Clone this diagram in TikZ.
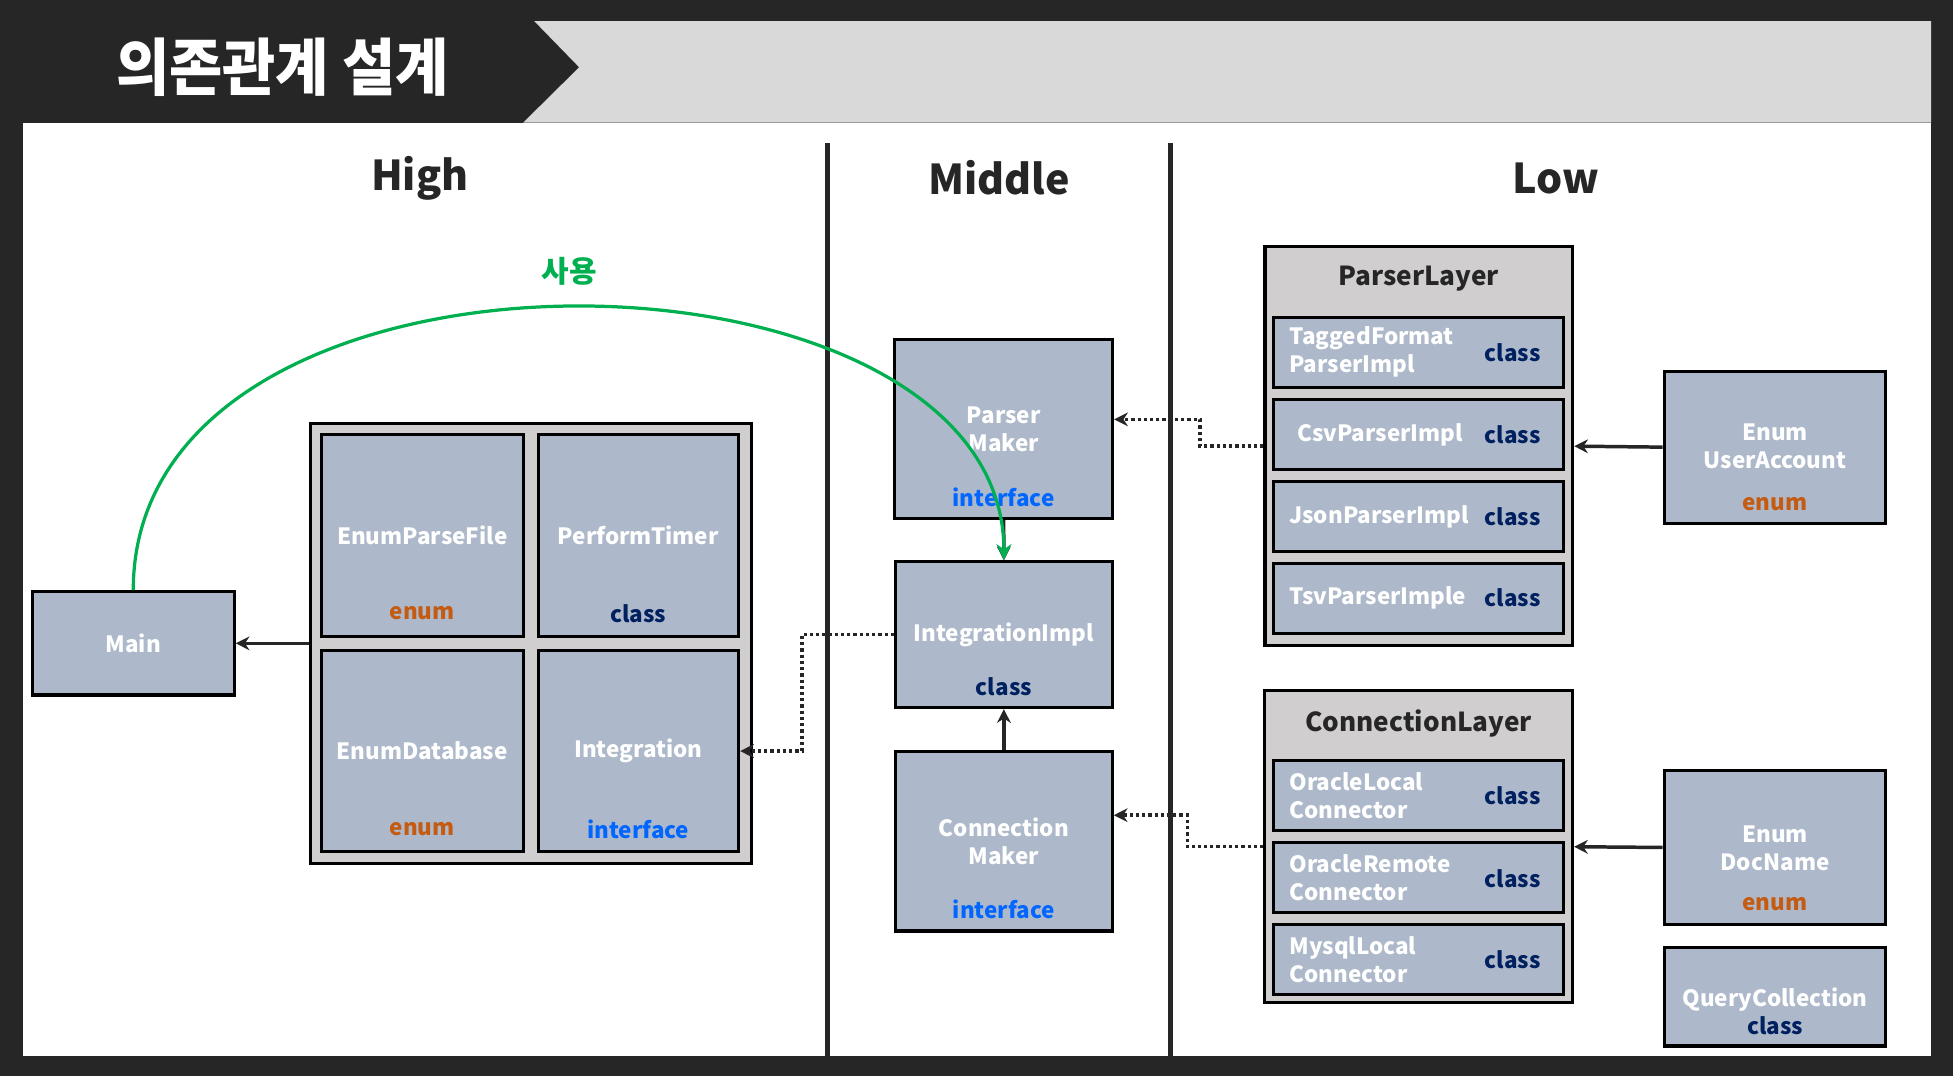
\documentclass[tikz,border=0pt]{standalone}
\usepackage{fontspec}
\usepackage{graphicx}
\setmainfont{Noto Sans CJK KR}
\usetikzlibrary{arrows.meta,calc}
\definecolor{darkbg}{HTML}{262626}
\definecolor{bandgray}{HTML}{D9D9D9}
\definecolor{boxblue}{HTML}{ADB9CA}
\definecolor{contgray}{HTML}{D0CECE}
\definecolor{enumorange}{HTML}{C55A11}
\definecolor{classnavy}{HTML}{002060}
\definecolor{ifaceblue}{HTML}{0066FF}
\definecolor{usegreen}{HTML}{00B050}
\tikzset{
  box/.style={draw=black, line width=2.5pt, fill=boxblue, inner sep=0pt},
  cont/.style={draw=black, line width=2.5pt, fill=contgray, inner sep=0pt},
  txtbase/.style={inner sep=0pt, font=\bfseries\fontsize{18}{22.5}\selectfont},
  nm/.style={txtbase, text=white, align=center},
  nml/.style={txtbase, text=white, align=left, anchor=west},
  tenum/.style={txtbase, text=enumorange},
  tclass/.style={txtbase, text=classnavy},
  tiface/.style={txtbase, text=ifaceblue},
  hdr/.style={inner sep=0pt, text=darkbg, font=\bfseries\fontsize{33}{40}\selectfont},
  ttl/.style={inner sep=0pt, text=darkbg, font=\bfseries\fontsize{21}{25}\selectfont},
  con/.style={draw=darkbg, line width=2.8pt, -{Stealth[length=11pt,width=11pt]}},
  dcon/.style={draw=darkbg, line width=2.8pt, dash pattern=on 2.6pt off 2.4pt, -{Stealth[length=11pt,width=11pt]}},
  usecon/.style={draw=usegreen, line width=2.6pt, -{Stealth[length=13pt,width=12pt]}},
  divider/.style={draw=darkbg, line width=4pt},
}
\begin{document}
\begin{tikzpicture}[x=1pt,y=-1pt]
\useasboundingbox (0,0) rectangle (1568,864);
% background and banner
\fill[darkbg] (0,0) rectangle (1568,864);
\fill[white] (18.4,98.5) rectangle (1550.5,847.5);
\fill[bandgray] (429,17) -- (1550.5,17) -- (1550.5,98.5) -- (420,98.5) -- (465,54) -- cycle;
\node[text=white, inner sep=0pt, anchor=west, font=\bfseries\fontsize{50}{56}\selectfont] (title) at (93,54) {\scalebox{0.93}[1]{의존관계 설계}};
% dividers
\draw[divider] (664,115) -- (664,848);
\draw[divider] (940,115) -- (940,848);
% headers
\node[hdr] (hHigh) at (337,143) {High};
\node[hdr] (hMid) at (802,143) {Middle};
\node[hdr] (hLow) at (1249,143) {Low};

% High
\node[box, minimum width=162pt, minimum height=83pt] (main) at (107,516.5) {};
\node[nm] (tmain) at (107,516.5) {Main};
\node[cont, minimum width=354pt, minimum height=353pt] (highc) at (426,516.5) {};
\node[box, minimum width=162pt, minimum height=162pt] (epf) at (339,430) {};
\node[box, minimum width=161pt, minimum height=162pt] (pt) at (512.5,430) {};
\node[box, minimum width=162pt, minimum height=161pt] (ed) at (339,603) {};
\node[box, minimum width=161pt, minimum height=161pt] (integ) at (512.5,603) {};
\node[nm] (tepf) at (339,430) {EnumParseFile};
\node[tenum] (kepf) at (339,492.5) {enum};
\node[nm] (tpt) at (512.5,430) {PerformTimer};
\node[tclass] (kpt) at (512.5,492.8) {class};
\node[nm] (ted) at (339,603) {EnumDatabase};
\node[tenum] (ked) at (339,666) {enum};
\node[nm] (tinteg) at (512.5,602.5) {Integration};
\node[tiface] (kinteg) at (512.5,666) {interface};

% Middle
\node[box, minimum width=175pt, minimum height=144pt] (pmaker) at (805.8,344.3) {};
\node[nm] (tpmaker) at (805.8,345) {Parser\\Maker};
\node[tiface] (kpmaker) at (805.8,399.3) {interface};
\node[box, minimum width=174pt, minimum height=117pt] (intimpl) at (806,509.6) {};
\node[nm] (tintimpl) at (806,509.9) {IntegrationImpl};
\node[tclass] (kintimpl) at (806,551.4) {class};
\node[box, minimum width=174pt, minimum height=144pt] (cmaker) at (806,675.5) {};
\node[nm] (tcmaker) at (806,675.7) {Connection\\Maker};
\node[tiface] (kcmaker) at (806,730) {interface};

% Low: parser layer
\node[cont, minimum width=247pt, minimum height=320.4pt] (plyr) at (1139.1,358.2) {};
\node[ttl] (tplyr) at (1139,224) {ParserLayer};
\node[box, minimum width=233pt, minimum height=56pt] (tf) at (1139.1,283) {};
\node[box, minimum width=233pt, minimum height=56pt] (csv) at (1139.1,348.8) {};
\node[box, minimum width=233pt, minimum height=56pt] (json) at (1139.1,414.5) {};
\node[box, minimum width=233pt, minimum height=56pt] (tsv) at (1139.1,480.5) {};
\node[nml] (ttf) at (1035,282.8) {TaggedFormat\\ParserImpl};
\node[nm] (tcsv) at (1108,349.3) {CsvParserImpl};
\node[nml] (tjson) at (1035,414.9) {JsonParserImpl};
\node[nml] (ttsv) at (1035,479.9) {TsvParserImple};
\node[tclass] (ktf) at (1214.5,283.2) {class};
\node[tclass] (kcsv) at (1214.5,348.8) {class};
\node[tclass] (kjson) at (1214.5,414.5) {class};
\node[tclass] (ktsv) at (1214.5,480.2) {class};

% Low: connection layer
\node[cont, minimum width=247pt, minimum height=250.5pt] (clyr) at (1139,679.8) {};
\node[ttl] (tclyr) at (1139,580.8) {ConnectionLayer};
\node[box, minimum width=233pt, minimum height=56pt] (ol) at (1139.1,638.5) {};
\node[box, minimum width=233pt, minimum height=56pt] (orm) at (1139.1,704.4) {};
\node[box, minimum width=233pt, minimum height=56pt] (ml) at (1139.1,770.1) {};
\node[nml] (tol) at (1035,639) {OracleLocal\\Connector};
\node[nml] (torm) at (1035,705) {OracleRemote\\Connector};
\node[nml] (tml) at (1035,770.7) {MysqlLocal\\Connector};
\node[tclass] (kol) at (1214.5,639.1) {class};
\node[tclass] (korm) at (1214.5,705.2) {class};
\node[tclass] (kml) at (1214.5,770.8) {class};

% Low: enums
\node[box, minimum width=178pt, minimum height=122pt] (ua) at (1425.1,359) {};
\node[nm] (tua) at (1425.1,358.5) {Enum\\UserAccount};
\node[tenum] (kua) at (1425.1,404.5) {enum};
\node[box, minimum width=178pt, minimum height=123pt] (dn) at (1425.1,680.4) {};
\node[nm] (tdn) at (1425.1,680.8) {Enum\\DocName};
\node[tenum] (kdn) at (1425.1,725.8) {enum};
\node[box, minimum width=178pt, minimum height=79pt] (qc) at (1425.1,800.3) {};
\node[nm] (tqc) at (1425.1,812) {QueryCollection\\\textcolor{classnavy}{class}};

% connectors
\draw[con] (highc.west) -- (main.east);
\draw[dcon] (intimpl.west) -- ++(-74,0) |- (integ.east);
\draw[con] (pmaker.south) -- (intimpl.north);
\draw[con] (cmaker.north) -- (intimpl.south);
\draw[dcon] (plyr.west) -- ++(-51,0) |- ([yshift=7.6pt]pmaker.east);
\draw[dcon] (clyr.west) -- ++(-61,0) |- ([yshift=21pt]cmaker.east);
\draw[con] (ua.west) -- (plyr.east);
\draw[con] (dn.west) -- (clyr.east);
\draw[usecon] (main.north) .. controls (107,168) and (806,182) .. (intimpl.north);
\node[inner sep=0pt, text=usegreen, font=\bfseries\fontsize{24}{28}\selectfont] (use) at (457,218) {사용};
\end{tikzpicture}
\end{document}
